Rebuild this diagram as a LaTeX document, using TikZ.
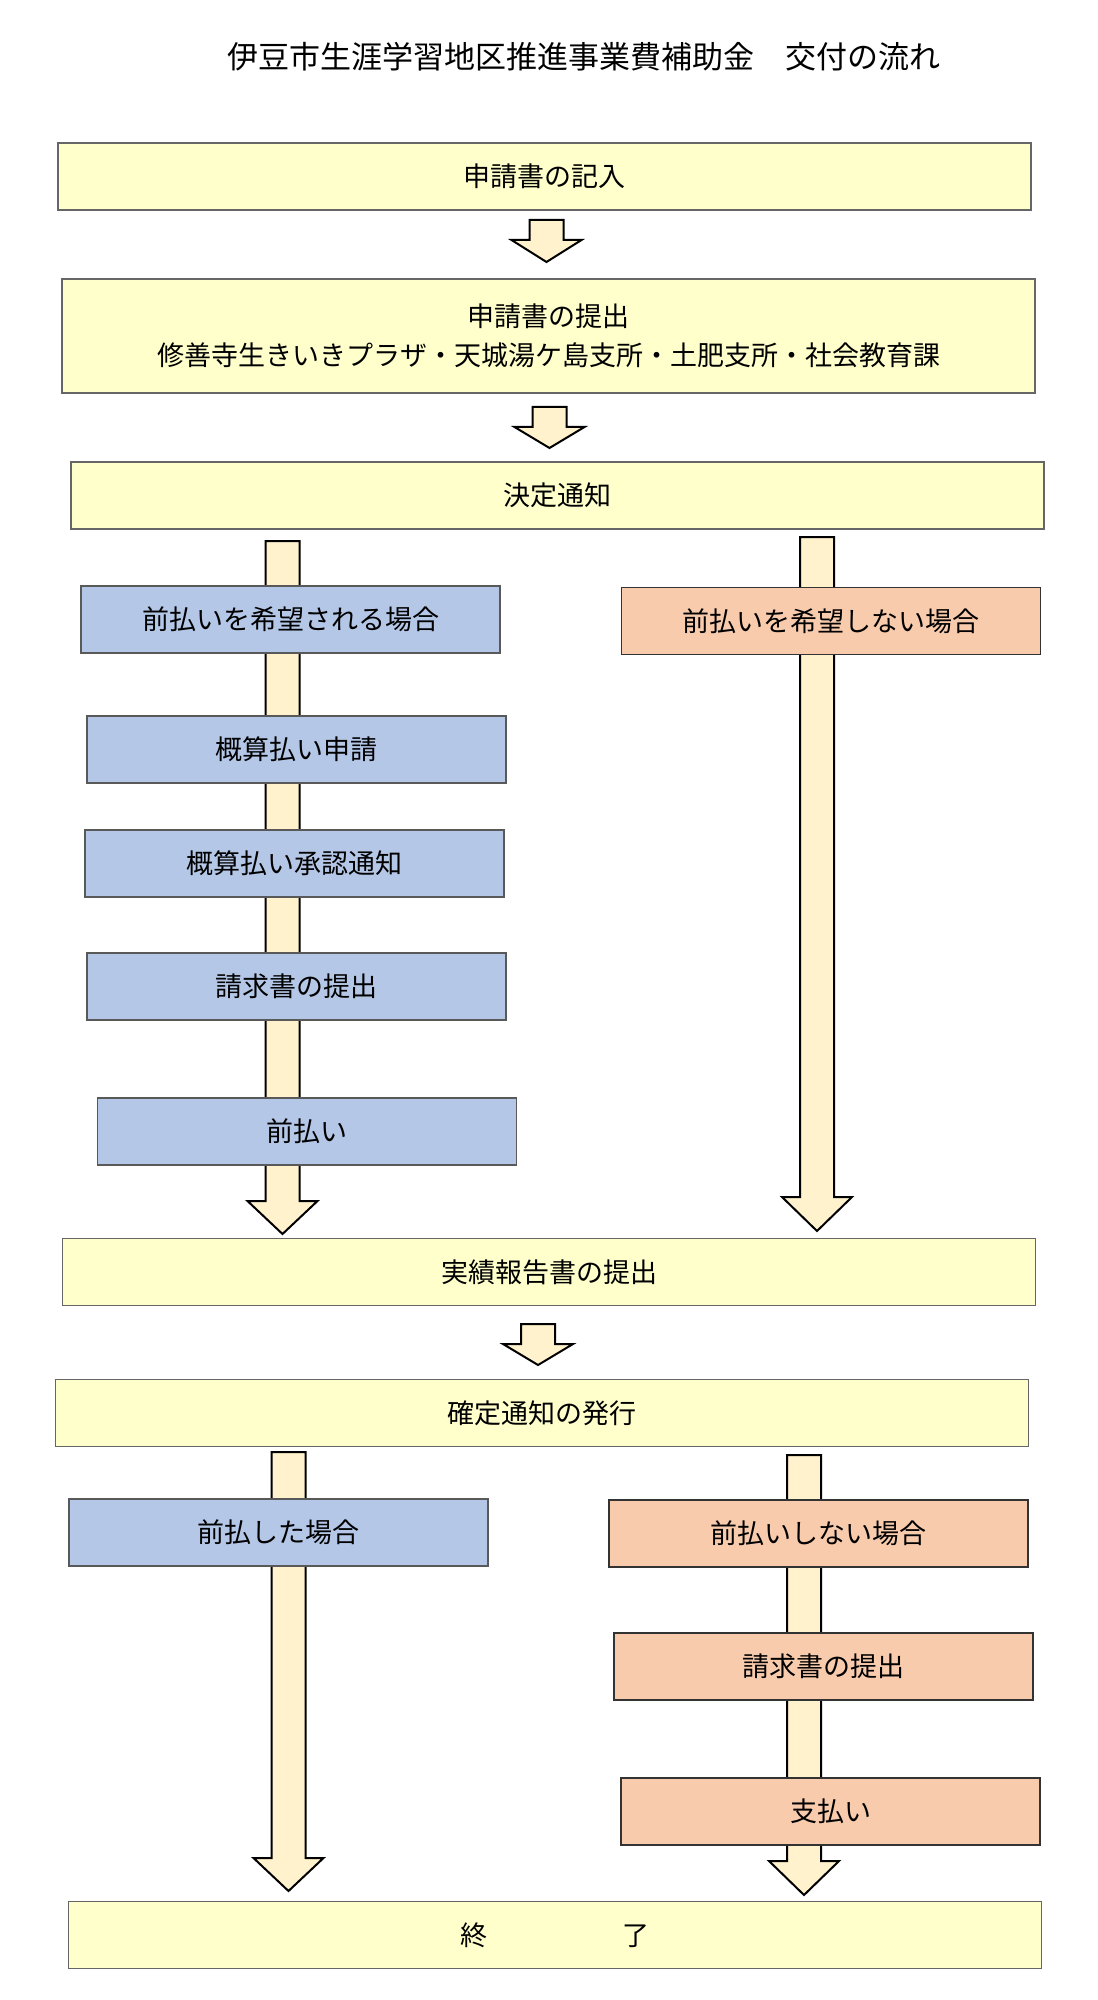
\documentclass[tikz,border=0pt]{standalone}
\usepackage{fontspec}
\setmainfont{Noto Sans CJK JP}
\usepackage{tikz}
\usetikzlibrary{calc}
\definecolor{stepfill}{HTML}{FFFFCC}
\definecolor{yesfill}{HTML}{B4C7E7}
\definecolor{nofill}{HTML}{F8CBAD}
\definecolor{arrfill}{HTML}{FFF2CC}

% block arrow: #1 start, #2 tip, #3 head length
\newcommand{\blockarrow}[3]{%
  \draw[arrowbody] let \p1=(#1), \p2=(#2) in
    (\x1-8.5pt,\y1) -- (\x1-8.5pt,\y2+#3) -- (\x1-17.5pt,\y2+#3) -- (\x1,\y2)
    -- (\x1+17.5pt,\y2+#3) -- (\x1+8.5pt,\y2+#3) -- (\x1+8.5pt,\y1) -- cycle;}

\begin{document}
\begin{tikzpicture}[x=0.5pt, y=-0.5pt,
        every node/.style={font=\fontsize{13.5pt}{19.5pt}\selectfont, inner sep=0pt},
        stepbox/.style={draw=gray!80!black, fill=stepfill, line width=0.8pt,
          minimum width=486.5pt, minimum height=33.5pt},
        yesbox/.style={draw=gray!70!black, fill=yesfill, line width=0.8pt,
          minimum width=209.5pt, minimum height=33.5pt},
        nobox/.style={draw=black!80, fill=nofill, line width=0.8pt,
          minimum width=209.5pt, minimum height=33.5pt},
        arrowbody/.style={draw=black, fill=arrfill, line width=1pt, line join=miter}]

  \useasboundingbox (0,0) rectangle (1097,2000);

  % arrow ends
  \coordinate (a1s) at (546.5,220);  \coordinate (a1e) at (546.5,262);
  \coordinate (a2s) at (549.5,407);  \coordinate (a2e) at (549.5,448);
  \coordinate (l1s) at (282.5,541);  \coordinate (l1e) at (282.5,1234);
  \coordinate (r1s) at (817,537);    \coordinate (r1e) at (817,1231);
  \coordinate (a3s) at (538,1324);   \coordinate (a3e) at (538,1365);
  \coordinate (l2s) at (288.5,1452); \coordinate (l2e) at (288.5,1891);
  \coordinate (r2s) at (804,1455);   \coordinate (r2e) at (804,1895);

  \blockarrow{a1s}{a1e}{11pt}
  \blockarrow{a2s}{a2e}{10.5pt}
  \blockarrow{l1s}{l1e}{16.5pt}
  \blockarrow{r1s}{r1e}{17pt}
  \blockarrow{a3s}{a3e}{10.5pt}
  \blockarrow{l2s}{l2e}{16.5pt}
  \blockarrow{r2s}{r2e}{17pt}

  \node[font=\fontsize{15.5pt}{18pt}\selectfont] (title) at (583.5,57) {伊豆市生涯学習地区推進事業費補助金　交付の流れ};

  \node[stepbox] (kinyu) at (544.5,176.5) {申請書の記入};
  \node[stepbox, minimum height=57pt, align=center] (teishutsu) at (548.5,336)
    {申請書の提出\\修善寺生きいきプラザ・天城湯ケ島支所・土肥支所・社会教育課};
  \node[stepbox] (kettei) at (557.5,495.5) {決定通知};

  \node[yesbox] (kibou) at (290.5,619.5) {前払いを希望される場合};
  \node[nobox] (hikibou) at (831,621) {前払いを希望しない場合};
  \node[yesbox] (gaisan) at (296.5,749.5) {概算払い申請};
  \node[yesbox] (shonin) at (294.5,863.5) {概算払い承認通知};
  \node[yesbox] (seikyu) at (296.5,986.5) {請求書の提出};
  \node[yesbox] (maebarai) at (307,1131.5) {前払い};

  \node[stepbox] (jisseki) at (549,1272) {実績報告書の提出};
  \node[stepbox] (kakutei) at (542,1413) {確定通知の発行};

  \node[yesbox] (maeshita) at (278.5,1532.5) {前払した場合};
  \node[nobox] (maenashi) at (818.5,1533.5) {前払いしない場合};
  \node[nobox] (seikyub) at (823.5,1666.5) {請求書の提出};
  \node[nobox] (shiharai) at (830.5,1811.5) {支払い};

  \node[stepbox] (shuryo) at (555,1935) {終　　　　　了};
\end{tikzpicture}
\end{document}
